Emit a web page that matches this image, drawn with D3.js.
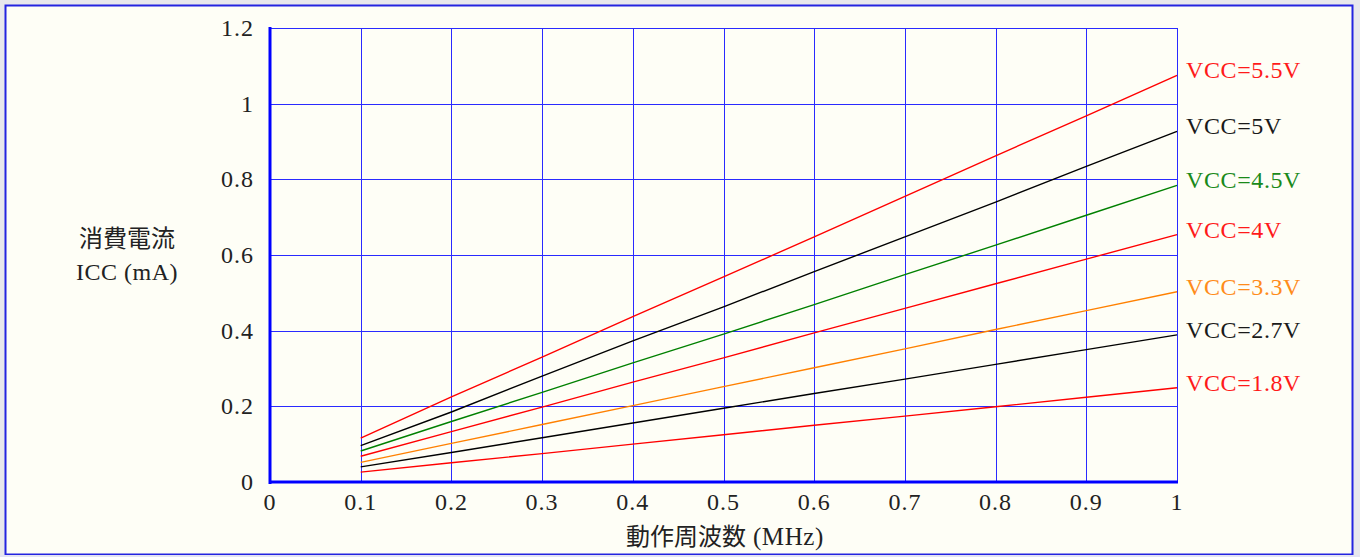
<!DOCTYPE html>
<html><head><meta charset="utf-8">
<script src="https://cdn.jsdelivr.net/npm/d3@7/dist/d3.min.js"></script>
<style>
html,body{margin:0;padding:0;background:#e8e8ec;}
svg{display:block;}
</style></head>
<body><svg id="c" width="1360" height="557"></svg>
<script>
const freqs = [0.1,0.2,0.3,0.4,0.5,0.6,0.7,0.8,0.9,1.0];
const seriesNames = ["VCC=5.5V","VCC=5V","VCC=4.5V","VCC=4V","VCC=3.3V","VCC=2.7V","VCC=1.8V"];
const seriesColors = ["#ff0000","#000000","#008000","#ff0000","#ff8000","#000000","#ff0000"];
const labelColors = ["#ff1a1a","#1a1a1a","#1a8a1a","#ff1a1a","#ff8c1a","#1a1a1a","#ff1a1a"];
const v55 = [0.116,0.225,0.330,0.437,0.542,0.648,0.755,0.862,0.968,1.075];
const v50 = [0.096,0.185,0.280,0.373,0.463,0.556,0.648,0.740,0.834,0.927];
const v45 = [0.082,0.160,0.237,0.315,0.391,0.469,0.548,0.626,0.705,0.784];
const v40 = [0.068,0.133,0.198,0.264,0.328,0.394,0.459,0.524,0.589,0.654];
const v33 = [0.052,0.102,0.152,0.202,0.252,0.302,0.352,0.403,0.453,0.503];
const v27 = [0.040,0.078,0.117,0.156,0.195,0.234,0.272,0.311,0.350,0.389];
const v18 = [0.026,0.051,0.075,0.100,0.125,0.150,0.174,0.199,0.224,0.249];
const seriesValues = [v55,v50,v45,v40,v33,v27,v18];
const xTicks = [0,0.1,0.2,0.3,0.4,0.5,0.6,0.7,0.8,0.9,1];
const xTickLabels = ["0","0.1","0.2","0.3","0.4","0.5","0.6","0.7","0.8","0.9","1"];
const yTicks = [0,0.2,0.4,0.6,0.8,1,1.2];
const yTickLabels = ["0","0.2","0.4","0.6","0.8","1","1.2"];
const yTitle = ["消費電流","ICC (mA)"];
const xTitle = ["動作周波数"," (MHz)"];

const svg = d3.select("#c");
const W = 1360, H = 557;
const L = 270, R = 1177, T = 28, B = 482;
const serif = "'Liberation Serif','DejaVu Serif',serif";
const cjk = "'Noto Sans CJK JP','Liberation Serif',serif";

// frame
svg.append("rect").attr("x",0).attr("y",0).attr("width",W).attr("height",H).attr("fill","#e8e8ec");
svg.append("rect").attr("x",5.5).attr("y",5.5).attr("width",1347).attr("height",549)
  .attr("fill","#fefef6").attr("stroke","#2424e0").attr("stroke-width",2);
svg.append("rect").attr("x",0).attr("y",555).attr("width",W).attr("height",2).attr("fill","#e4e4f2");

const x = d3.scaleLinear().domain([0,1]).range([L,R]);
const y = d3.scaleLinear().domain([0,1.2]).range([B,T]);

// grid
const g = svg.append("g");
g.selectAll(".vg").data(xTicks.slice(1)).enter().append("line")
  .attr("x1",d=>Math.round(x(d))+0.5).attr("x2",d=>Math.round(x(d))+0.5)
  .attr("y1",y(1.2)).attr("y2",y(0)).attr("stroke","#2a2aff").attr("stroke-width",1);
g.selectAll(".hg").data(yTicks.slice(1)).enter().append("line")
  .attr("y1",d=>Math.round(y(d))+0.5).attr("y2",d=>Math.round(y(d))+0.5)
  .attr("x1",x(0)).attr("x2",x(1)).attr("stroke","#2a2aff").attr("stroke-width",1);

// axes (thick)
svg.append("line").attr("x1",x(0)).attr("x2",x(0)).attr("y1",y(1.2)-1).attr("y2",y(0)+2)
  .attr("stroke","#0000ff").attr("stroke-width",3);
svg.append("line").attr("x1",x(0)-1).attr("x2",x(1)+1).attr("y1",y(0)).attr("y2",y(0))
  .attr("stroke","#0000ff").attr("stroke-width",3);

// tick labels
svg.selectAll(".xt").data(xTicks).enter().append("text")
  .attr("x",d=>x(d)).attr("y",y(0)+28)
  .attr("text-anchor","middle").attr("font-family",serif).attr("font-size",24)
  .attr("letter-spacing",1).attr("fill","#222")
  .text((d,i)=>xTickLabels[i]);
svg.selectAll(".yt").data(yTicks).enter().append("text")
  .attr("x",x(0)-16).attr("y",d=>y(d)+8)
  .attr("text-anchor","end").attr("font-family",serif).attr("font-size",24)
  .attr("letter-spacing",1).attr("fill","#222")
  .text((d,i)=>yTickLabels[i]);

// titles
svg.append("text").attr("x",127).attr("y",247).attr("text-anchor","middle")
  .attr("font-family",cjk).attr("font-size",24).attr("fill","#222").text(yTitle[0]);
svg.append("text").attr("x",127).attr("y",280).attr("text-anchor","middle")
  .attr("font-family",serif).attr("font-size",24).attr("letter-spacing",0.5).attr("fill","#222").text(yTitle[1]);
svg.append("text").attr("x",725).attr("y",545).attr("text-anchor","middle")
  .attr("font-family",cjk).attr("font-size",24).attr("fill","#222")
  .call(t=>{
    t.append("tspan").text(xTitle[0]);
    t.append("tspan").attr("font-family",serif).attr("font-size",25).attr("letter-spacing",0.6).text(xTitle[1]);
  });

// lines
const line = d3.line().x((d,i)=>x(freqs[i])).y(d=>y(d));
svg.selectAll(".ser").data(seriesValues).enter().append("path")
  .attr("d",d=>line(d)).attr("fill","none")
  .attr("stroke",(d,i)=>seriesColors[i]).attr("stroke-width",1.4);

// labels
svg.selectAll(".lab").data(seriesValues).enter().append("text")
  .attr("x",x(1)+9).attr("y",d=>y(d[d.length-1])+3)
  .attr("font-family",serif).attr("font-size",24).attr("letter-spacing",0.6)
  .attr("fill",(d,i)=>labelColors[i]).text((d,i)=>seriesNames[i]);
</script></body></html>
